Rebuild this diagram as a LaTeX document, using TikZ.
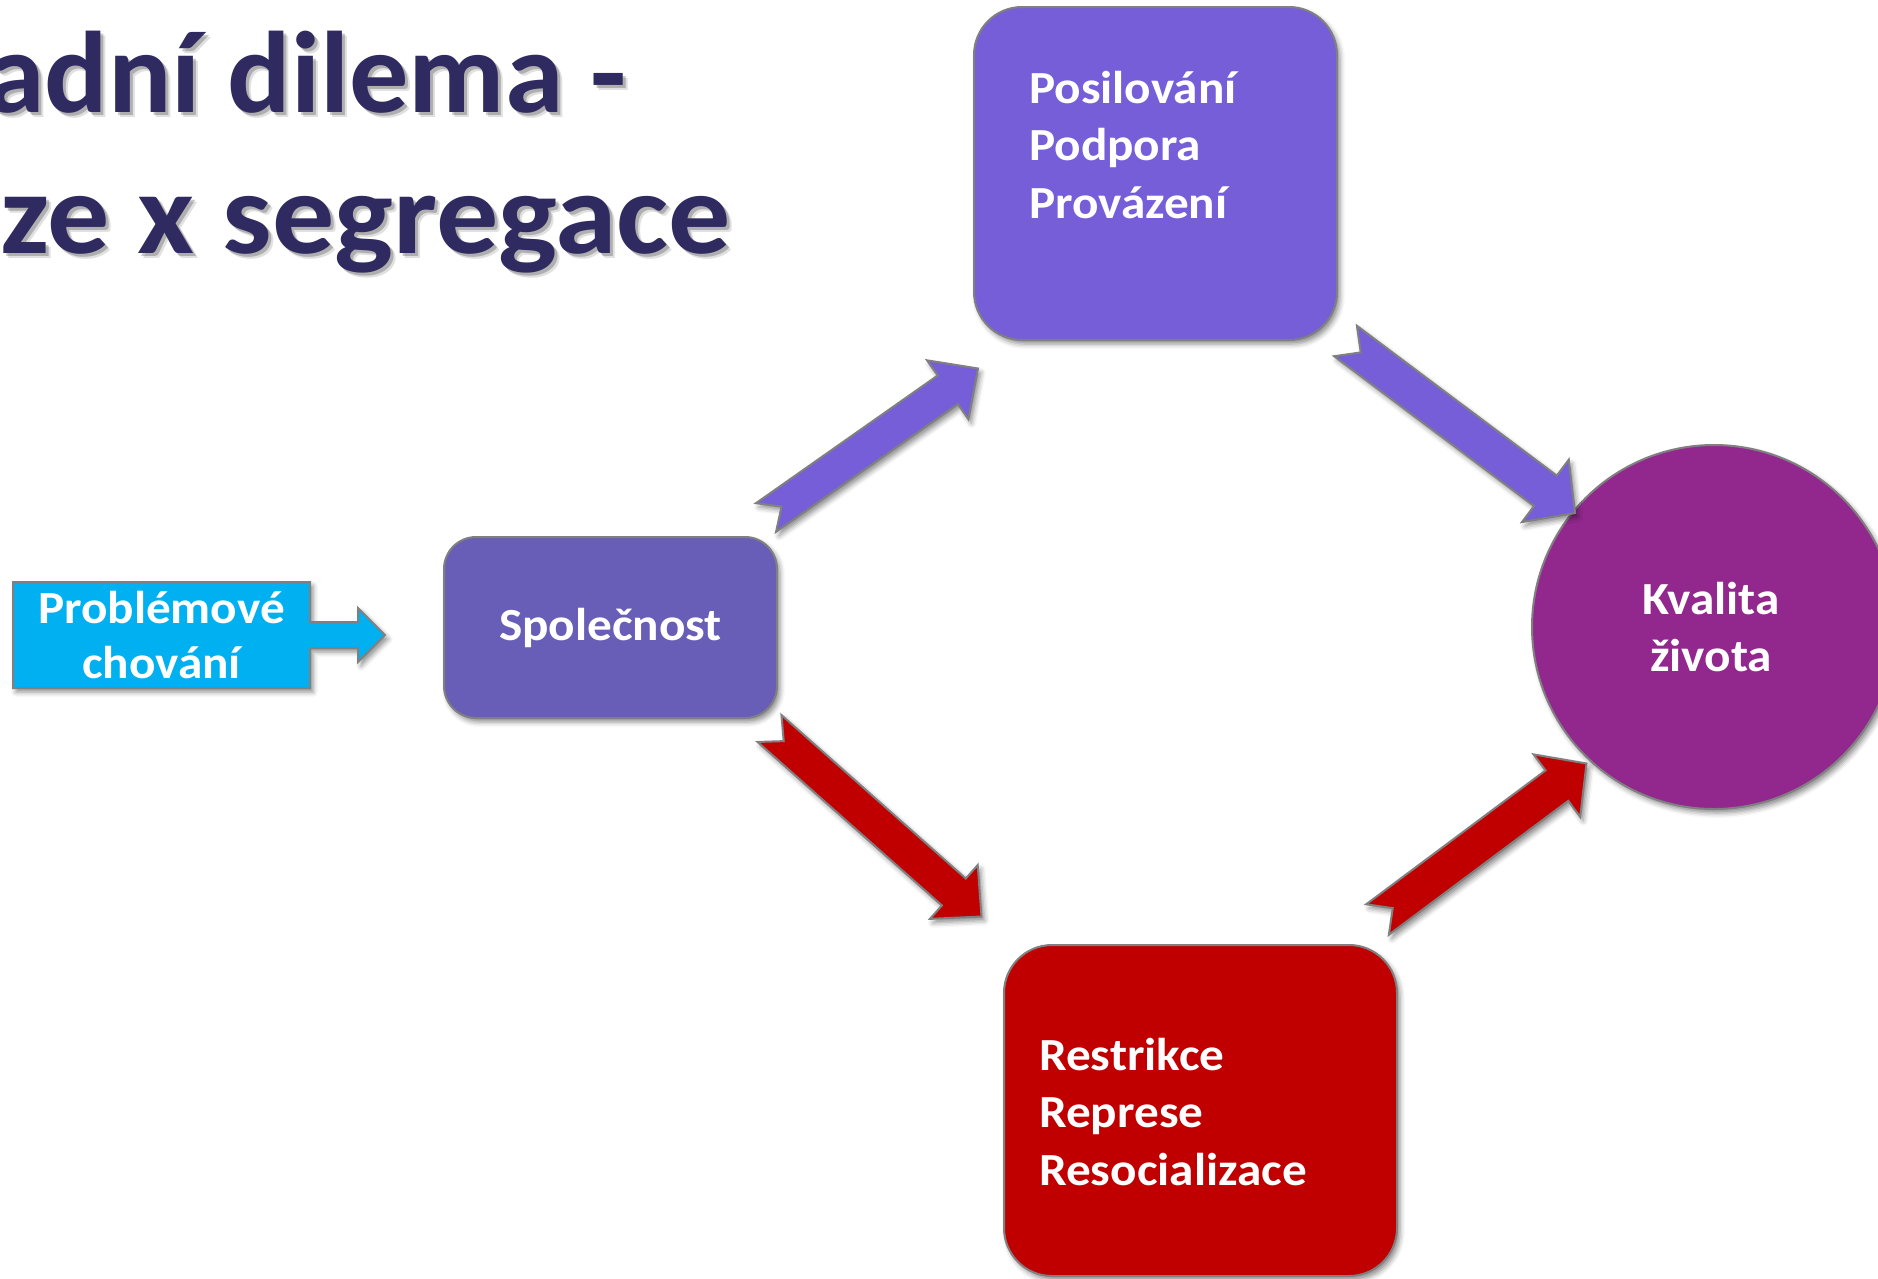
\documentclass[tikz,border=0pt]{standalone}
\usepackage{fontspec}
\setmainfont{Carlito}
\newfontfamily\bodyfont{Carlito}[FakeStretch=1.07]
\newfontfamily\titlefont{Carlito}[FakeStretch=1.02]
\newfontfamily\titlefontb{Carlito}[FakeStretch=1.07]
\usetikzlibrary{calc,shadows.blur}
\definecolor{titlenavy}{RGB}{47,43,96}
\definecolor{vio}{RGB}{118,94,217}
\definecolor{spol}{RGB}{104,94,184}
\definecolor{kval}{RGB}{146,40,142}
\definecolor{redbox}{RGB}{192,0,0}
\definecolor{cyanbox}{RGB}{0,176,240}
\definecolor{edge}{RGB}{128,128,128}
\tikzset{
  softshadow/.style={blur shadow={shadow xshift=3pt,shadow yshift=-4pt,shadow blur radius=5pt,shadow opacity=45}},
  shape box/.style={draw=edge, line width=2pt, softshadow, inner sep=0pt},
  body/.style={text=white, font=\bodyfont\bfseries\fontsize{46}{57.5}\selectfont, inner sep=0pt},
  titletext/.style={font=\titlefont\bfseries\fontsize{116}{140}\selectfont, inner sep=0pt, anchor=base west},
  titletextb/.style={font=\titlefontb\bfseries\fontsize{116}{140}\selectfont, inner sep=0pt, anchor=base west},
  arrowshape/.style={draw=edge, line width=2pt, line join=miter, softshadow},
}
\newcommand\notchedarrow[5]{%
  \coordinate (#2-b) at ($(#2)!37pt!(#1)$);
  \path[arrowshape, fill=#3]
    ($(#1)!#4!90:(#2)$) -- ($(#1)!19pt!(#2)$) -- ($(#1)!#4!-90:(#2)$)
    -- ($(#2-b)!#4!-90:(#2)$) -- ($(#2-b)!#5!-90:(#2)$) -- (#2)
    -- ($(#2-b)!#5!90:(#2)$) -- ($(#2-b)!#4!90:(#2)$) -- cycle;
}
\begin{document}
\begin{tikzpicture}[x=1pt,y=1pt]
\path[use as bounding box] (0,0) rectangle (1878,-1278);
\clip (0,0) rectangle (1878,-1278);

% title (cut at the left edge)
\foreach \dx/\op in {5/0.12,3/0.22}{
  \node[titletext, text=black, opacity=\op] at (-14+\dx,-112-\dx) {adní dilema -};
  \node[titletextb, text=black, opacity=\op] at (0+\dx,-253-\dx) {ze x segregace};
}
\node[titletext, text=titlenavy] (t1) at (-14,-112) {adní dilema -};
\node[titletextb, text=titlenavy] (t2) at (0,-253) {ze x segregace};

% boxes
\node[shape box, fill=vio, rounded corners=48pt, minimum width=363pt, minimum height=333pt] (top) at (1155.5,-173.5) {};
\node[body, anchor=base west, align=left] (toptext) at (1029,-218) {Posilování\\Podpora\\Provázení};

\node[shape box, fill=redbox, rounded corners=48pt, minimum width=393pt, minimum height=331pt] (bot) at (1200.5,-1110.5) {};
\node[body, anchor=base west, align=left] (bottext) at (1039,-1185) {Restrikce\\Represe\\Resocializace};

\node[shape box, fill=spol, rounded corners=32pt, minimum width=333pt, minimum height=181pt, body] (soc) at (610.5,-627.5) {Společnost};

\node[shape box, circle, fill=kval, minimum size=364pt] (kv) at (1714,-627) {};
\node[body, align=center] (kvtext) at (1711,-627) {Kvalita\\života};

% problem behaviour callout
\path[shape box, fill=cyanbox, line join=miter]
  (13,-582) -- (310,-582) -- (310,-622) -- (358,-622) -- (358,-608) -- (385,-635)
  -- (358,-662) -- (358,-648) -- (310,-648) -- (310,-688) -- (13,-688) -- cycle;
\node[body, align=center, font=\bodyfont\bfseries\fontsize{46}{55}\selectfont] (prob) at (161.5,-635) {Problémové\\chování};

% block arrows
\coordinate (a1t) at (766,-517.5);  \coordinate (a1h) at (978,-368.5);
\coordinate (a2t) at (1345.5,-341); \coordinate (a2h) at (1575,-513);
\coordinate (a3t) at (769.5,-728.5); \coordinate (a3h) at (981.5,-916.5);
\coordinate (a4t) at (1377.5,-919.5); \coordinate (a4h) at (1586.5,-763.5);
\notchedarrow{a1t}{a1h}{vio}{17.5pt}{36pt}
\notchedarrow{a2t}{a2h}{vio}{19pt}{39pt}
\notchedarrow{a3t}{a3h}{redbox}{18pt}{36pt}
\notchedarrow{a4t}{a4h}{redbox}{19pt}{39pt}
\end{tikzpicture}
\end{document}
